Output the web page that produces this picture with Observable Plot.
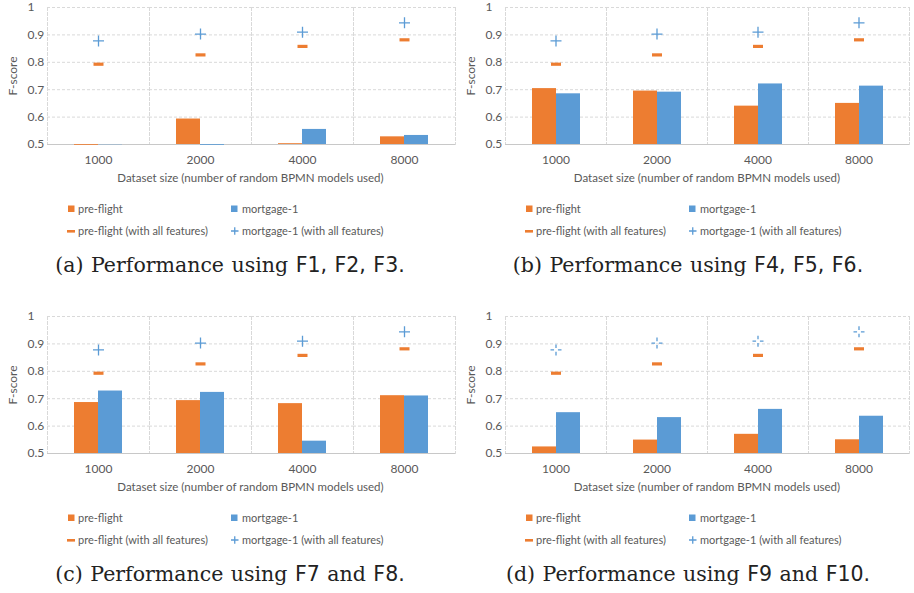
<!DOCTYPE html>
<html><head><meta charset="utf-8">
<script src="https://cdn.jsdelivr.net/npm/d3@7"></script>
<script src="https://cdn.jsdelivr.net/npm/@observablehq/plot@0.6"></script>
<style>
body{margin:0;background:#fff;width:914px;height:593px;overflow:hidden;position:relative;}
.panel{position:absolute;height:300px;}
.panel svg{position:absolute;left:0;top:0;}
.xt{position:absolute;top:171px;font:11.5px Lato,sans-serif;color:#595959;text-align:center;white-space:nowrap;}
.yt{position:absolute;left:-27px;top:68px;width:80px;text-align:center;font:12px Lato,sans-serif;color:#595959;transform:rotate(-90deg);transform-origin:40px 8px;line-height:16px;}
.lg{position:absolute;font:11px Lato,sans-serif;color:#595959;white-space:nowrap;line-height:14px;}
.sw{position:absolute;}
.cap{position:absolute;top:253px;left:0;width:460px;text-align:center;font:20.5px "DejaVu Serif",serif;color:#222;white-space:nowrap;word-spacing:1px;}
.cap .sf{font-family:"DejaVu Sans",sans-serif;}
</style></head><body>
<script>
const sizes = ["1000","2000","4000","8000"];
const series = ["pre-flight","mortgage-1"];
const yTicks = [0.5,0.6,0.7,0.8,0.9,1];
const yTickLabels = ["0.5","0.6","0.7","0.8","0.9","1"];
const xTitle = "Dataset size (number of random BPMN models used)";
const yTitle = "F-score";
const legendLabels = ["pre-flight","mortgage-1","pre-flight (with all features)","mortgage-1 (with all features)"];

// with all features (same in every panel)
const allPre  = [0.793,0.827,0.858,0.882];
const allMort = [0.878,0.903,0.910,0.944];

// (a) F1, F2, F3
const aPre  = [0.497,0.593,0.503,0.528];
const aMort = [0.499,0.497,0.555,0.533];
// (b) F4, F5, F6
const bPre  = [0.704,0.695,0.640,0.650];
const bMort = [0.685,0.691,0.721,0.713];
// (c) F7, F8
const cPre  = [0.686,0.693,0.682,0.711];
const cMort = [0.728,0.723,0.545,0.710];
// (d) F9, F10
const dPre  = [0.524,0.549,0.570,0.550];
const dMort = [0.649,0.631,0.661,0.636];

const orange = "#ED7D31", blue = "#5B9BD5";

const dashSym = {draw(ctx, size){const r=Math.sqrt(size/Math.PI);ctx.moveTo(-r,-1.6);ctx.lineTo(r,-1.6);ctx.lineTo(r,1.6);ctx.lineTo(-r,1.6);ctx.closePath();}};
const plusSym = {draw(ctx, size){const r=Math.sqrt(size/Math.PI);ctx.moveTo(-r,0);ctx.lineTo(r,0);ctx.moveTo(0,-r);ctx.lineTo(0,r);}};
const brokenPlusSym = {draw(ctx, size){const r=Math.sqrt(size/Math.PI),g=r*0.35;
  ctx.moveTo(-r,0);ctx.lineTo(-g,0);ctx.moveTo(g,0);ctx.lineTo(r,0);
  ctx.moveTo(0,-r);ctx.lineTo(0,-g);ctx.moveTo(0,g);ctx.lineTo(0,r);}};

function panel({left, top, width, ml, mr, pre, mort, plus, capParts}) {
  const div = document.createElement("div");
  div.className = "panel";
  div.style.left = left+"px"; div.style.top = top+"px"; div.style.width = width+"px";
  document.body.appendChild(div);

  const rows = sizes.flatMap((s,i)=>[{size:s,series:series[0],v:pre[i]},{size:s,series:series[1],v:mort[i]}]);
  const allRows = sizes.map((s,i)=>({size:s,pre:allPre[i],mort:allMort[i]}));
  const grid = {stroke:"#d9d9d9", strokeOpacity:1, strokeDasharray:"3,2"};

  const chart = Plot.plot({
    width, height:190, marginLeft:ml, marginRight:mr, marginTop:7, marginBottom:46,
    style:{fontFamily:"Lato, sans-serif", fontSize:"12px", color:"#595959", background:"transparent"},
    fx:{domain:sizes, padding:0, label:null, axis:null},
    x:{domain:series, axis:null, paddingInner:0, paddingOuter:1.075},
    y:{domain:[0.5,1], axis:null},
    color:{domain:series, range:[orange, blue]},
    marks:[
      Plot.gridY(yTicks, grid),
      Plot.frame({anchor:"left", ...grid}),
      Plot.frame({anchor:"right", ...grid}),
      Plot.ruleY([0.5], {stroke:"#c8c8c8"}),
      Plot.barY(rows, {fx:"size", x:"series", y1:0.5, y2:"v", fill:"series"}),
      Plot.dot(allRows, {fx:"size", y:"pre", symbol:dashSym, r:5, fill:orange, stroke:"none"}),
      Plot.dot(allRows, {fx:"size", y:"mort", symbol:plus, r:5.5, fill:"none", stroke:blue, strokeWidth:1.3}),
      Plot.axisY(yTicks, {anchor:"left", tickSize:0, tickPadding:20, textAnchor:"start", fill:"#595959",
        tickFormat:(d)=>yTickLabels[yTicks.indexOf(d)], label:null}),
      Plot.axisFx({anchor:"bottom", tickSize:0, tickPadding:11, fill:"#595959", label:null})
    ]
  });
  div.appendChild(chart);

  const plotW = width-ml-mr;
  const xt = document.createElement("div");
  xt.className="xt"; xt.textContent = xTitle;
  xt.style.left = ml+"px"; xt.style.width = plotW+"px";
  div.appendChild(xt);

  const yt = document.createElement("div");
  yt.className="yt"; yt.textContent = yTitle;
  div.appendChild(yt);

  // legend
  const lx = [[68,78],[231,242]];
  const ly = [209,231];
  legendLabels.forEach((lab,i)=>{
    const col = i%2, row = Math.floor(i/2);
    const t = document.createElement("div");
    t.className="lg"; t.textContent = lab;
    t.style.left = lx[col][1]+"px"; t.style.top = (ly[row]-7)+"px";
    div.appendChild(t);
    const s = document.createElementNS("http://www.w3.org/2000/svg","svg");
    s.setAttribute("class","sw"); s.setAttribute("width",10); s.setAttribute("height",10);
    s.style.left = (lx[col][0]-1)+"px"; s.style.top = (ly[row]-5)+"px";
    if (row===0) s.innerHTML = `<rect x="1" y="1.5" width="6.5" height="6.5" fill="${col===0?orange:blue}"/>`;
    else if (col===0) s.innerHTML = `<rect x="0" y="4" width="8" height="2.6" fill="${orange}"/>`;
    else s.innerHTML = `<path d="M1,5H8.5M4.75,1.25V8.75" stroke="${blue}" stroke-width="1.3" fill="none"/>`;
    div.appendChild(s);
  });

  const cap = document.createElement("div");
  cap.className="cap";
  cap.innerHTML = capParts.map(([txt,sf])=>sf?`<span class="sf">${txt}</span>`:txt).join("");
  div.appendChild(cap);
}

panel({left:0, top:0, width:457, ml:46, mr:2, pre:aPre, mort:aMort, plus:plusSym,
  capParts:[["(a) Performance using ",0],["F1, F2, F3.",1]]});
panel({left:458, top:0, width:456, ml:46, mr:4, pre:bPre, mort:bMort, plus:plusSym,
  capParts:[["(b) Performance using ",0],["F4, F5, F6.",1]]});
panel({left:0, top:309, width:457, ml:46, mr:2, pre:cPre, mort:cMort, plus:plusSym,
  capParts:[["(c) Performance using ",0],["F7",1],[" and ",0],["F8.",1]]});
panel({left:458, top:309, width:456, ml:46, mr:4, pre:dPre, mort:dMort, plus:brokenPlusSym,
  capParts:[["(d) Performance using ",0],["F9",1],[" and ",0],["F10.",1]]});
</script>
</body></html>
